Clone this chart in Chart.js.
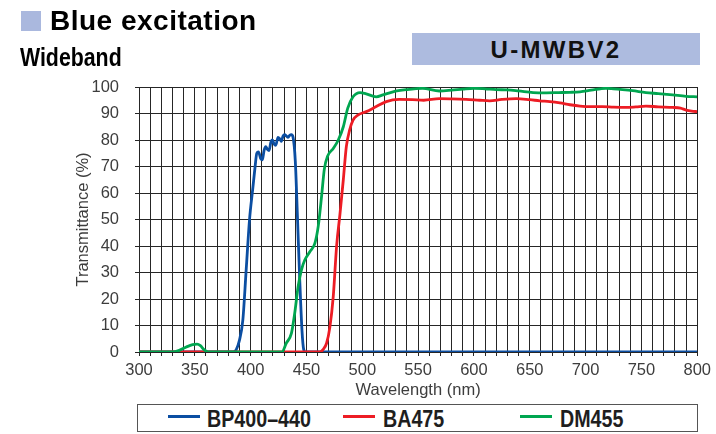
<!DOCTYPE html>
<html lang="en">
<head>
  <meta charset="UTF-8">
  <title>U-MWBV2 Blue excitation</title>
  <script src="https://cdn.jsdelivr.net/npm/chart.js"></script>
  <style>
    body {
      margin: 0;
      background: #fff;
      font-family: "Liberation Sans", Arial, sans-serif;
    }
    #page {
      position: relative;
      width: 716px;
      height: 434px;
      overflow: hidden;
    }
    .abs {
      position: absolute;
      line-height: 1;
      white-space: nowrap;
    }
    /* no narrow face installed, so squeeze the bold one */
    .narrow {
      font-weight: bold;
      transform: scaleX(0.82);
      transform-origin: left top;
    }
    #chartBox {
      position: absolute;
      left: 0;
      top: 0;
      width: 716px;
      height: 400px;
    }
    #legend {
      position: absolute;
      left: 137px;
      top: 404px;
      width: 559px;
      height: 26px;
      border: 1.5px solid #555;
    }
    .swatch {
      position: absolute;
      height: 3px;
      width: 32px;
      top: 415px;
    }
  </style>
</head>
<body>
<div id="page">
  <div id="chartBox"><canvas id="chart"></canvas></div>

  <div class="abs" style="left:21px; top:11px; width:20px; height:20px; background:#aab8de;"></div>
  <div class="abs" style="left:50px; top:7px; font-size:28px; font-weight:bold; letter-spacing:0.5px; color:#000;">Blue excitation</div>
  <div class="abs narrow" style="left:20px; top:43.7px; font-size:26px; color:#000;">Wideband</div>
  <div class="abs" style="left:412px; top:33px; width:288px; height:32px; background:#adbbdf;"></div>
  <div class="abs" style="left:412px; top:38.4px; width:288px; text-align:center; font-size:24px; font-weight:bold; letter-spacing:2.3px; color:#111;">U-MWBV2</div>

  <div id="legend"></div>
  <div class="swatch" style="left:168px; background:#0b4ea2;"></div>
  <div class="abs narrow" style="left:207px; top:407.4px; font-size:24px; color:#1e1e1e;">BP400–440</div>
  <div class="swatch" style="left:343px; background:#ed1c24;"></div>
  <div class="abs narrow" style="left:383px; top:407.4px; font-size:24px; color:#1e1e1e;">BA475</div>
  <div class="swatch" style="left:520px; background:#00a650;"></div>
  <div class="abs narrow" style="left:560px; top:407.4px; font-size:24px; color:#1e1e1e;">DM455</div>
</div>

<script>
  // tick labels
  const xTickLabels = [300, 350, 400, 450, 500, 550, 600, 650, 700, 750, 800];
  const yTickLabels = [0, 10, 20, 30, 40, 50, 60, 70, 80, 90, 100];

  // BP400-440 (excitation filter)
  const bpNm = [300, 384, 387, 390, 393, 396, 399, 402, 404, 405.5, 407, 409, 410.5, 412, 413.5, 415, 416.5,
    418, 419.5, 421, 422.5, 424.5, 426, 427.5, 429, 430.5, 432, 433.5, 435, 436.5, 438, 440, 442, 444, 446,
    447.5, 449, 800];
  const bpT = [0, 0, 0.8, 4.5, 12, 31, 50, 62, 70, 75, 75.5, 73, 72.5, 76, 77.5, 76.5, 76,
    79, 80, 78.5, 78, 81, 80.5, 79.5, 81.5, 82, 81.5, 81, 81.8, 82, 81, 72, 50, 27, 8,
    1, 0, 0];

  // BA475 (barrier filter)
  const baNm = [300, 462, 465, 468, 471, 474, 477, 480, 483, 485.7, 488.7, 491.7, 496, 503.6, 512.5, 521.5,
    533, 545, 555, 569, 580, 593, 605, 614, 625, 638, 650, 659, 668, 677, 686, 695, 705, 715, 725, 736,
    745, 754, 765, 778, 785, 790, 795, 800];
  const baT = [0, 0, 1, 3.3, 9.5, 21, 40, 52, 65, 77.5, 83.8, 87.5, 89.4, 90.7, 92.6, 94.5,
    95.3, 95.2, 95, 95.6, 95.5, 95.3, 95, 94.8, 95.3, 95.6, 95.2, 94.8, 94.5, 94, 93.3, 92.8, 92.6, 92.6, 92.4, 92.3,
    92.5, 92.8, 92.5, 92.3, 92, 91.3, 90.9, 90.7];

  // DM455 (dichromatic mirror)
  const dmNm = [300, 330, 336, 342, 348, 352, 355, 358, 362, 428, 432, 436.5, 439.5, 442.5, 445.5, 448.5,
    453, 457.5, 460.5, 463.5, 466, 469, 474, 478.5, 483, 487, 491.7, 498, 503.5, 512.5, 518.5, 527.5,
    539.5, 554, 569, 580, 590, 600, 610, 620, 630, 640, 653, 665, 676, 686, 695, 705, 718, 725, 733,
    742, 754, 765, 778, 790, 800];
  const dmT = [0, 0, 0.6, 1.8, 2.8, 3, 2.4, 1, 0, 0, 3.4, 7, 14.7, 24.6, 31, 34.7,
    37.8, 41, 47.3, 58.6, 69, 74, 76.8, 80, 85, 92, 96.3, 97.9, 97.4, 96.3, 97, 98.2,
    99, 99.5, 98.5, 98.8, 99.2, 99.5, 99.3, 99, 98.9, 98.5, 97.9, 97.8, 97.9, 98, 98.2, 98.8, 99.5, 99.3, 99,
    98.6, 97.9, 97.5, 97, 96.5, 96.3];

  function toPoints(xs, ys) {
    return xs.map((x, i) => ({ x: x, y: ys[i] }));
  }

  const gridColor = '#262626';
  const textColor = '#3d3d3d';
  const axisFont = { family: '"Liberation Sans", Arial, sans-serif', size: 16.5, lineHeight: 1.2 };

  const ctx = document.getElementById('chart').getContext('2d');
  new Chart(ctx, {
    type: 'line',
    data: {
      datasets: [
        { label: 'BP400–440', data: toPoints(bpNm, bpT), borderColor: '#0b4ea2', order: 3 },
        { label: 'BA475', data: toPoints(baNm, baT), borderColor: '#ed1c24', order: 2 },
        { label: 'DM455', data: toPoints(dmNm, dmT), borderColor: '#00a650', order: 1 }
      ]
    },
    options: {
      responsive: true,
      maintainAspectRatio: false,
      animation: false,
      events: [],
      layout: { padding: { left: 74, right: 18, top: 87, bottom: 0 } },
      elements: {
        point: { radius: 0 },
        line: { borderWidth: 2.8, cubicInterpolationMode: 'monotone', fill: false }
      },
      plugins: {
        legend: { display: false },
        tooltip: { enabled: false }
      },
      scales: {
        x: {
          type: 'linear',
          min: 300,
          max: 800,
          afterFit: scale => { scale.height = 48; },
          grid: { color: gridColor, lineWidth: 1, tickLength: 4, tickColor: gridColor },
          border: { color: gridColor, width: 1 },
          ticks: {
            stepSize: 10,
            autoSkip: false,
            maxRotation: 0,
            padding: 5,
            color: textColor,
            font: axisFont,
            callback: v => xTickLabels.includes(v) ? String(v) : ''
          },
          title: {
            display: true,
            text: 'Wavelength (nm)',
            color: textColor,
            font: axisFont,
            padding: 0
          }
        },
        y: {
          min: 0,
          max: 100,
          afterFit: scale => { scale.width = 65; },
          grid: { color: gridColor, lineWidth: 1, tickLength: 4, tickColor: gridColor },
          border: { color: gridColor, width: 1 },
          ticks: {
            stepSize: 10,
            padding: 16,
            color: textColor,
            font: axisFont,
            callback: v => yTickLabels.includes(v) ? String(v) : ''
          },
          title: {
            display: true,
            text: 'Transmittance (%)',
            color: textColor,
            font: axisFont,
            padding: 0
          }
        }
      }
    }
  });
</script>
</body>
</html>
